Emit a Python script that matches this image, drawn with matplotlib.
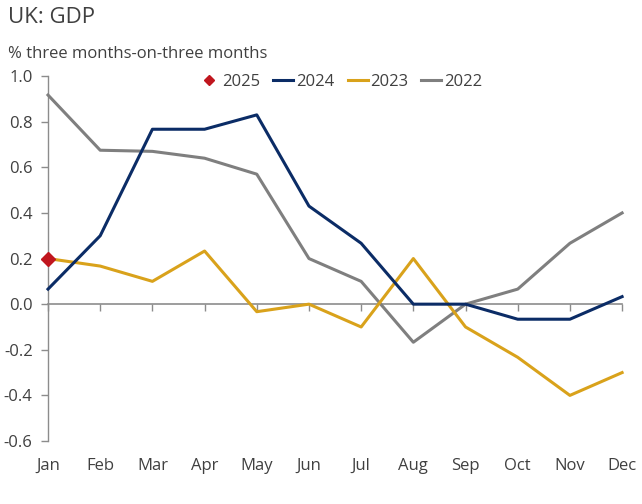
import matplotlib.pyplot as plt

# data
months = ['Jan', 'Feb', 'Mar', 'Apr', 'May', 'Jun', 'Jul', 'Aug', 'Sep', 'Oct', 'Nov', 'Dec']
gdp_2025 = [0.2]
gdp_2024 = [0.066, 0.30, 0.767, 0.767, 0.83, 0.43, 0.267, 0.0, 0.0, -0.066, -0.066, 0.033]
gdp_2023 = [0.20, 0.167, 0.10, 0.233, -0.033, 0.0, -0.10, 0.20, -0.10, -0.233, -0.40, -0.30]
gdp_2022 = [0.917, 0.675, 0.67, 0.64, 0.57, 0.20, 0.10, -0.167, 0.0, 0.066, 0.267, 0.40]
yticks = [-0.6, -0.4, -0.2, 0.0, 0.2, 0.4, 0.6, 0.8, 1.0]

plt.rcParams['font.family'] = ['Open Sans', 'DejaVu Sans']
txt = '#404040'
axcol = '#8c8c8c'

fig = plt.figure(figsize=(6.42, 5.04), dpi=100)
ax = fig.add_axes([0.0748, 0.125, 0.8942, 0.724])

x = list(range(len(months)))
ax.plot(x, gdp_2022, color='#7f7f7f', lw=2.2, label='2022', zorder=3)
ax.plot(x, gdp_2023, color='#d9a21b', lw=2.2, label='2023', zorder=4)
ax.plot(x, gdp_2024, color='#0b2c66', lw=2.2, label='2024', zorder=5)
ax.plot(x[:len(gdp_2025)], gdp_2025, ls='none', marker='D', ms=7,
        color='#c0161e', label='2025', zorder=6, clip_on=False)

ax.set_xlim(0, 11)
ax.set_ylim(-0.6, 1.0)
ax.set_yticks(yticks)
ax.set_yticklabels(['%.1f' % v for v in yticks])

for s in ['top', 'right', 'bottom']:
    ax.spines[s].set_visible(False)
ax.spines['left'].set_color(axcol)
ax.spines['left'].set_linewidth(1)
ax.tick_params(axis='y', colors=axcol, labelcolor=txt, labelsize=12, length=5, width=1, pad=6)

# month labels at the bottom, no tick marks
ax.set_xticks(x)
ax.set_xticklabels(months)
ax.tick_params(axis='x', length=0, labelsize=12, labelcolor=txt, pad=12)

# zero line with ticks
sec = ax.secondary_xaxis(0, transform=ax.transData)
sec.set_xticks(x)
sec.set_xticklabels([])
sec.spines['bottom'].set_color(axcol)
sec.spines['bottom'].set_linewidth(1.2)
sec.tick_params(axis='x', colors=axcol, length=5, width=1, direction='out')

for l in ax.get_lines():
    l.set_clip_on(False)

h, lab = ax.get_legend_handles_labels()
order = [3, 2, 1, 0]
ax.legend([h[i] for i in order], [lab[i] for i in order], ncol=4, frameon=False,
          loc='center', bbox_to_anchor=(0.51, 0.985), fontsize=12, labelcolor=txt,
          handlelength=1.2, handletextpad=0.15, columnspacing=0.8, markerscale=0.75)

fig.text(0.012, 0.966, 'UK: GDP', fontsize=16, color=txt, va='center', ha='left')
fig.text(0.012, 0.892, '% three months-on-three months', fontsize=12, color=txt, va='center', ha='left')

fig.savefig('out.png', dpi=100)
